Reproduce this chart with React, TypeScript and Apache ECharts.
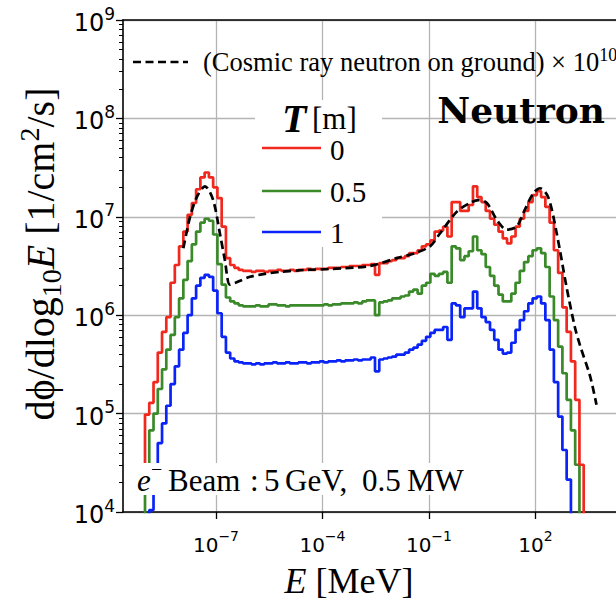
import React, { useEffect, useRef } from 'react';
import * as echarts from 'echarts';

// Histogram binning in log10(E / MeV)
const BIN_START_LOG_E = -9.12;
const BIN_WIDTH_LOG_E = 0.12;
const Z = null; // empty bin

// log10 of dphi/dlog10E [1/cm^2/s], one value per bin
const fluxT0: (number | null)[] = [
  4.40, 4.99, 5.11, 5.32, 5.62, 5.83, 5.98, 6.33, 6.51, 6.70,
  6.85, 7.02, 7.14, 7.28, 7.40, 7.45, 7.40, 7.30, 7.19, 6.90,
  6.58, 6.51, 6.48, 6.46, 6.45, 6.45, 6.44, 6.45, 6.45, 6.44,
  6.45, 6.45, 6.46, 6.45, 6.45, 6.46, 6.45, 6.46, 6.46, 6.47,
  6.46, 6.47, 6.47, 6.47, 6.48, 6.48, 6.48, 6.49, 6.49, 6.50,
  6.50, 6.50, 6.51, 6.51, 6.52, 6.41, 6.53, 6.53, 6.55, 6.56,
  6.58, 6.58, 6.60, 6.63, 6.63, 6.66, 6.70, 6.72, 6.76, 6.85,
  6.86, 6.90, 6.80, 7.15, 7.15, 7.06, 7.06, 7.12, 7.31, 7.20,
  7.15, 7.06, 6.98, 6.92, 6.85, 6.78, 6.73, 6.80, 6.90, 6.98,
  7.06, 7.15, 7.22, 7.26, 7.20, 7.10, 6.94, 6.66, 6.43, 6.08,
  5.83, 5.53, 5.14, 4.48, Z,
];
const fluxT05: (number | null)[] = [
  Z, 4.30, 4.83, 5.00, 5.25, 5.45, 5.65, 5.80, 5.98, 6.17,
  6.36, 6.55, 6.72, 6.85, 6.94, 6.98, 6.96, 6.82, 6.52, 6.31,
  6.18, 6.14, 6.12, 6.10, 6.09, 6.09, 6.09, 6.10, 6.09, 6.09,
  6.11, 6.11, 6.10, 6.10, 6.09, 6.10, 6.10, 6.10, 6.10, 6.10,
  6.10, 6.10, 6.10, 6.11, 6.10, 6.11, 6.11, 6.12, 6.12, 6.12,
  6.13, 6.12, 6.14, 6.15, 6.15, 6.00, 6.13, 6.14, 6.15, 6.17,
  6.17, 6.19, 6.20, 6.24, 6.26, 6.22, 6.30, 6.33, 6.42, 6.40,
  6.42, 6.44, 6.33, 6.70, 6.68, 6.56, 6.60, 6.65, 6.80, 6.66,
  6.62, 6.49, 6.40, 6.30, 6.21, 6.14, 6.14, 6.22, 6.33, 6.45,
  6.54, 6.60, 6.66, 6.68, 6.63, 6.49, 6.19, 5.95, 5.68, 5.41,
  5.14, 4.83, 4.48, Z, Z,
];
const fluxT1: (number | null)[] = [
  Z, Z, 4.02, 4.30, 4.70, 4.90, 5.08, 5.30, 5.48, 5.65,
  5.82, 6.00, 6.17, 6.30, 6.38, 6.41, 6.39, 6.25, 6.02, 5.78,
  5.62, 5.56, 5.53, 5.52, 5.51, 5.51, 5.50, 5.51, 5.50, 5.51,
  5.51, 5.52, 5.51, 5.51, 5.52, 5.51, 5.51, 5.52, 5.52, 5.51,
  5.52, 5.52, 5.53, 5.52, 5.53, 5.53, 5.54, 5.53, 5.54, 5.54,
  5.55, 5.54, 5.55, 5.55, 5.57, 5.43, 5.55, 5.56, 5.57, 5.58,
  5.60, 5.60, 5.62, 5.65, 5.67, 5.70, 5.74, 5.78, 5.82, 5.85,
  5.85, 5.88, 5.75, 6.12, 6.10, 5.98, 6.07, 6.07, 6.24, 6.07,
  5.98, 5.93, 5.85, 5.75, 5.65, 5.61, 5.62, 5.72, 5.85, 5.95,
  6.04, 6.12, 6.17, 6.19, 6.12, 5.95, 5.65, 5.32, 4.97, 4.63,
  4.33, Z, Z, Z, Z,
];

// Cosmic ray neutron spectrum on ground (x 1e10): log10 E, log10 flux
const cosmicLogE = [
  -7.92, -7.73, -7.54, -7.31, -7.08, -6.89, -6.75, -6.61, -6.45, -6.04,
  -5.62, -5.20, -4.50, -3.79, -2.66, -1.91, -1.40, -0.97, -0.69, -0.22,
  0.15, 0.39, 0.63, 0.91, 1.19, 1.47, 1.70, 1.94, 2.13, 2.36,
  2.60, 2.88, 3.11, 3.25, 3.54, 3.72,
];
const cosmicLogFlux = [
  6.68, 7.00, 7.20, 7.31, 7.17, 6.83, 6.56, 6.31, 6.33, 6.39,
  6.42, 6.44, 6.46, 6.47, 6.50, 6.58, 6.63, 6.70, 6.83, 7.05,
  7.14, 7.17, 7.14, 6.97, 6.87, 6.90, 7.07, 7.24, 7.29, 7.20,
  6.83, 6.28, 5.88, 5.70, 5.38, 5.09,
];

const X_TICKS = [-7, -4, -1, 2];
const Y_MIN = 4;
const Y_MAX = 9;
const X_MIN = -9.62;
const X_MAX = 4.27;

const RED = '#f0281e';
const GREEN = '#3a8a2a';
const BLUE = '#0a24f8';
const SERIF = '"Liberation Serif", "DejaVu Serif", serif';
const SANS = '"DejaVu Sans", sans-serif';
const EMPTY = 0;

function stepPoints(vals: (number | null)[]) {
  const pts: number[][] = [];
  vals.forEach((v, i) => pts.push([BIN_START_LOG_E + i * BIN_WIDTH_LOG_E, v == null ? EMPTY : v]));
  const last = vals[vals.length - 1];
  pts.push([BIN_START_LOG_E + vals.length * BIN_WIDTH_LOG_E, last == null ? EMPTY : last]);
  return pts;
}

const yMinor: number[] = [];
for (let n = Y_MIN; n < Y_MAX; n++) for (let k = 2; k <= 9; k++) yMinor.push(n + Math.log10(k));

const expStr = (v: number) => {
  const r = Math.round(v);
  return r < 0 ? '\u2212' + -r : String(r);
};

const xTickRich = {
  b: { fontFamily: SANS, fontSize: 20, lineHeight: 26, color: '#000', verticalAlign: 'bottom' },
  s: { fontFamily: SANS, fontSize: 14, lineHeight: 14, color: '#000', verticalAlign: 'top' },
};
const yTickRich = {
  b: { fontFamily: SANS, fontSize: 24, lineHeight: 30, color: '#000', verticalAlign: 'bottom' },
  s: { fontFamily: SANS, fontSize: 17, lineHeight: 17, color: '#000', verticalAlign: 'top' },
};

export default function App() {
  const ref = useRef<HTMLDivElement>(null);
  useEffect(() => {
    if (!ref.current) return;
    const chart = echarts.init(ref.current, undefined, { renderer: 'svg' });
    const axisLineStyle = { color: '#000', width: 1.6 };
    const gridStyle = { color: '#b4b4b4', width: 1.3 };
    const lineSeries = (name: string, vals: (number | null)[], color: string, z: number) => ({
      type: 'line',
      name,
      data: stepPoints(vals),
      step: 'end',
      symbol: 'none',
      showSymbol: false,
      clip: true,
      silent: true,
      z,
      lineStyle: { color, width: 2.7 },
      itemStyle: { color },
    });
    const txt = (x: number, y: number, text: string, font: string, align = 'left', extra: any = {}) => ({
      type: 'text',
      x,
      y,
      z: 110,
      silent: true,
      style: { text, font, fill: '#000', align, verticalAlign: 'middle', ...extra },
    });
    const legendLine = (y: number, color: string) => ({
      type: 'line',
      z: 110,
      silent: true,
      shape: { x1: 262, y1: y, x2: 321, y2: y },
      style: { stroke: color, lineWidth: 2.7 },
    });
    const option: any = {
      animation: false,
      backgroundColor: '#fff',
      grid: { left: 123, top: 20, right: 0, bottom: 96 },
      xAxis: [
        {
          type: 'value',
          min: X_MIN,
          max: X_MAX,
          position: 'bottom',
          axisLine: { show: true, onZero: false, lineStyle: axisLineStyle },
          axisTick: { show: true, customValues: X_TICKS, length: 7, lineStyle: { color: '#000', width: 1.3 } },
          axisLabel: {
            show: true,
            customValues: X_TICKS,
            margin: 17,
            formatter: (v: number) => `{b|10}{s|${expStr(v)}}`,
            rich: xTickRich,
          },
          splitLine: { show: true, lineStyle: gridStyle },
        },
        {
          type: 'value',
          min: X_MIN,
          max: X_MAX,
          position: 'top',
          axisLine: { show: true, onZero: false, lineStyle: axisLineStyle },
          axisTick: { show: false },
          axisLabel: { show: false },
          splitLine: { show: false },
        },
      ],
      yAxis: [
        {
          type: 'value',
          min: Y_MIN,
          max: Y_MAX,
          interval: 1,
          axisLine: { show: true, onZero: false, lineStyle: axisLineStyle },
          axisTick: { show: true, length: 7, lineStyle: { color: '#000', width: 1.3 } },
          axisLabel: {
            margin: 8,
            formatter: (v: number) => `{b|10}{s|${expStr(v)}}`,
            rich: yTickRich,
          },
          splitLine: { show: true, lineStyle: gridStyle },
        },
        {
          type: 'value',
          min: Y_MIN,
          max: Y_MAX,
          position: 'left',
          axisLine: { show: false, onZero: false },
          axisTick: { show: true, customValues: yMinor, length: 4, lineStyle: { color: '#000', width: 1 } },
          axisLabel: { show: false },
          splitLine: { show: false },
        },
      ],
      series: [
        lineSeries('1', fluxT1, BLUE, 3),
        lineSeries('0.5', fluxT05, GREEN, 4),
        lineSeries('0', fluxT0, RED, 5),
        {
          type: 'line',
          name: 'cosmic',
          data: cosmicLogE.map((e, i) => [e, cosmicLogFlux[i]]),
          smooth: 0.3,
          symbol: 'none',
          showSymbol: false,
          clip: true,
          silent: true,
          z: 6,
          lineStyle: { color: '#000', width: 2.7, type: [8, 4.5] },
        },
      ],
      graphic: [
        // y axis title
        {
          type: 'text',
          x: 40,
          y: 254,
          rotation: Math.PI / 2,
          z: 110,
          silent: true,
          style: {
            text: '{r|d\u03d5/dlog}{sub|10}{i|E}{r| [1/cm}{sup|2}{r|/s]}',
            align: 'center',
            verticalAlign: 'middle',
            rich: {
              r: { fontFamily: SERIF, fontSize: 40, lineHeight: 50, fill: '#000' },
              i: { fontFamily: SERIF, fontStyle: 'italic', fontSize: 40, lineHeight: 50, fill: '#000' },
              sub: { fontFamily: SERIF, fontSize: 28, lineHeight: 28, verticalAlign: 'bottom', fill: '#000' },
              sup: { fontFamily: SERIF, fontSize: 28, lineHeight: 28, verticalAlign: 'top', fill: '#000' },
            },
          },
        },
        // x axis title
        {
          type: 'text',
          x: 349,
          y: 581,
          z: 110,
          silent: true,
          style: {
            text: '{i|E}{r| [MeV]}',
            align: 'center',
            verticalAlign: 'middle',
            rich: {
              r: { fontFamily: SERIF, fontSize: 36, lineHeight: 40, fill: '#000' },
              i: { fontFamily: SERIF, fontStyle: 'italic', fontSize: 36, lineHeight: 40, fill: '#000' },
            },
          },
        },
        // beam annotation box
        { type: 'rect', z: 105, silent: true, shape: { x: 133, y: 463, width: 335, height: 32 }, style: { fill: '#fff' } },
        txt(137, 480, 'e', `italic 31px ${SERIF}`),
        txt(151, 469, '\u2212', `20px ${SERIF}`),
        txt(168, 480, 'Beam', `31px ${SERIF}`),
        txt(250, 480, ':', `31px ${SERIF}`),
        txt(264, 480, '5', `31px ${SERIF}`),
        txt(285, 480, 'GeV,', `31px ${SERIF}`),
        txt(362, 480, '0.5', `31px ${SERIF}`),
        txt(407, 480, 'MW', `31px ${SERIF}`),
        // cosmic legend entry
        {
          type: 'line',
          z: 110,
          silent: true,
          shape: { x1: 133, y1: 62, x2: 188, y2: 62 },
          style: { stroke: '#000', lineWidth: 2.7, lineDash: [8, 4.5] },
        },
        {
          type: 'text',
          x: 203,
          y: 62,
          z: 110,
          silent: true,
          style: {
            text: '{r|(Cosmic ray neutron on ground) \u00d7 10}{s|10}',
            align: 'left',
            verticalAlign: 'middle',
            rich: {
              r: { fontFamily: SERIF, fontSize: 26.5, lineHeight: 32, fill: '#000' },
              s: { fontFamily: SERIF, fontSize: 18, lineHeight: 18, verticalAlign: 'top', fill: '#000' },
            },
          },
        },
        // particle label
        txt(605, 110, 'Neutron', `bold 36px "DejaVu Serif", serif`, 'right'),
        // thickness legend
        { type: 'rect', z: 105, silent: true, shape: { x: 255, y: 100, width: 127, height: 147 }, style: { fill: '#fff' } },
        txt(282, 118, 'T', `italic bold 40px ${SERIF}`),
        txt(312, 118, '[m]', `31px ${SERIF}`),
        legendLine(148, RED),
        legendLine(191, GREEN),
        legendLine(232, BLUE),
        txt(330, 150, '0', `29px ${SERIF}`),
        txt(330, 192, '0.5', `29px ${SERIF}`),
        txt(330, 233, '1', `29px ${SERIF}`),
      ],
    };
    chart.setOption(option);
    return () => chart.dispose();
  }, []);
  return (
    <div
      ref={ref}
      style={{ position: 'fixed', left: 0, top: 0, width: 616, height: 608, overflow: 'hidden', background: '#fff' }}
    />
  );
}
